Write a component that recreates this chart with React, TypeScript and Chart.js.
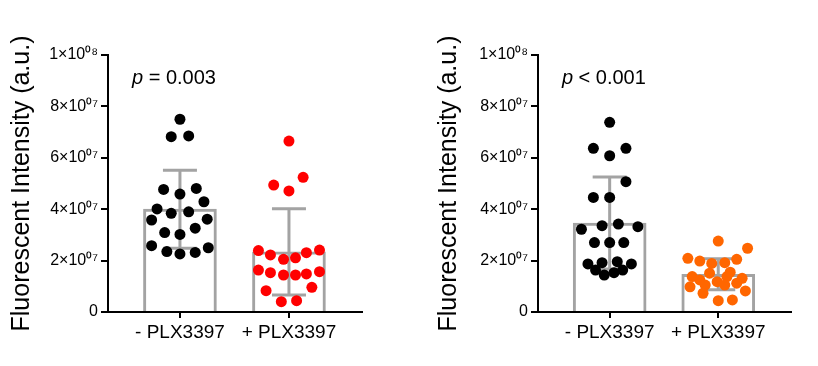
import React, { useEffect, useRef } from 'react';
import { Chart, registerables } from 'chart.js';

Chart.register(...registerables);

// ---------- data (values in units of 10^7 a.u.) ----------
const groupLabels = ['- PLX3397', '+ PLX3397'];
const yTickValues = [0, 2, 4, 6, 8, 10];
const yTickLabels = ['0', '2×10⁰⁷', '4×10⁰⁷', '6×10⁰⁷', '8×10⁰⁷', '1×10⁰⁸'];
const yTitle = 'Fluorescent Intensity (a.u.)';

// Panel A
const aMeans = [4.0, 2.34];
const aSD = [1.52, 1.68];
const aCtrlValues = [7.5, 6.82, 6.85, 4.77, 4.59, 4.81, 4.29, 4.01, 3.84, 3.9, 3.58, 3.61, 3.09, 3.02, 3.26, 2.58, 2.35, 2.26, 2.32, 2.5];
const aCtrlJitter = [0, -0.08, 0.08, -0.15, 0, 0.15, 0.22, -0.21, -0.08, 0.08, -0.26, 0.25, -0.14, 0, 0.14, -0.26, -0.12, 0, 0.14, 0.26];
const aTreatValues = [6.65, 4.94, 5.24, 4.71, 2.39, 2.22, 2.05, 2.11, 2.31, 2.41, 1.63, 1.53, 1.44, 1.44, 1.48, 1.57, 0.83, 0.96, 0.4, 0.44];
const aTreatJitter = [0, -0.14, 0.13, 0, -0.28, -0.17, -0.05, 0.06, 0.16, 0.28, -0.28, -0.17, -0.05, 0.06, 0.16, 0.28, -0.21, 0.21, -0.07, 0.07];
const aPText = ['p', ' = 0.003'];

// Panel B
const bMeans = [3.46, 1.47];
const bSD = [1.79, 0.6];
const bCtrlValues = [7.38, 6.37, 6.37, 6.08, 5.07, 4.46, 4.46, 3.22, 3.36, 3.42, 3.32, 2.7, 2.7, 2.7, 1.87, 1.92, 1.96, 1.87, 1.63, 1.44, 1.53, 1.63];
const bCtrlJitter = [0, -0.15, 0.15, 0, 0.15, -0.15, 0, -0.26, -0.07, 0.08, 0.26, -0.14, 0, 0.13, -0.2, -0.07, 0.07, 0.2, -0.13, -0.05, 0.04, 0.12];
const bTreatValues = [2.76, 2.48, 2.09, 1.98, 1.89, 1.92, 2.05, 1.51, 1.38, 1.25, 1.38, 1.31, 1.18, 0.98, 1.05, 1.05, 1.12, 0.73, 0.82, 0.44, 0.47, 1.55];
const bTreatJitter = [0, 0.27, -0.28, -0.17, -0.06, 0.06, 0.17, -0.08, -0.24, -0.17, 0.08, 0.22, -0.01, -0.26, -0.12, 0.06, 0.17, -0.14, 0.25, 0, 0.13, 0.11];
const bPText = ['p', ' < 0.001'];

const FONT = "'Liberation Sans', Arial, sans-serif";
const BAR_GRAY = '#a3a3a3';

type PanelProps = {
  means: number[];
  sds: number[];
  ctrlValues: number[];
  ctrlJitter: number[];
  treatValues: number[];
  treatJitter: number[];
  ctrlColor: string;
  treatColor: string;
  pText: string[];
  axisLeft: number;
  padRight: number;
  titlePad: number;
};

function Panel(props: PanelProps) {
  const ref = useRef<HTMLCanvasElement | null>(null);
  useEffect(() => {
    const {
      means, sds, ctrlValues, ctrlJitter, treatValues, treatJitter,
      ctrlColor, treatColor, pText, axisLeft, padRight, titlePad,
    } = props;

    const errorBars = {
      id: 'errorBars',
      afterDatasetDraw(chart: any, args: any) {
        if (args.index !== 2) return;
        const { ctx, scales } = chart;
        const xs = scales.x;
        const ys = scales.y;
        ctx.save();
        ctx.strokeStyle = BAR_GRAY;
        ctx.lineWidth = 3;
        means.forEach((m, i) => {
          const cx = xs.getPixelForValue(i);
          const top = ys.getPixelForValue(m + sds[i]);
          const bot = ys.getPixelForValue(m - sds[i]);
          const half = 17;
          ctx.beginPath();
          ctx.moveTo(cx, top);
          ctx.lineTo(cx, bot);
          ctx.moveTo(cx - half, top);
          ctx.lineTo(cx + half, top);
          ctx.moveTo(cx - half, bot);
          ctx.lineTo(cx + half, bot);
          ctx.stroke();
        });
        ctx.restore();
      },
    };

    const pLabel = {
      id: 'pLabel',
      afterDraw(chart: any) {
        const { ctx, scales } = chart;
        const x = scales.x.getPixelForValue(-0.44);
        const y = scales.y.getPixelForValue(9.1);
        ctx.save();
        ctx.fillStyle = '#000';
        ctx.textBaseline = 'middle';
        ctx.textAlign = 'left';
        ctx.font = `italic 20px ${FONT}`;
        ctx.fillText(pText[0], x, y);
        const w = ctx.measureText(pText[0]).width;
        ctx.font = `20px ${FONT}`;
        ctx.fillText(pText[1], x + w, y);
        ctx.restore();
      },
    };

    const chart = new Chart(ref.current as HTMLCanvasElement, {
      type: 'bar',
      data: {
        datasets: [
          {
            type: 'scatter',
            data: ctrlValues.map((v, i) => ({ x: 0 + ctrlJitter[i], y: v })),
            backgroundColor: ctrlColor,
            borderColor: ctrlColor,
            borderWidth: 0,
            pointRadius: 5.5,
            order: 0,
          } as any,
          {
            type: 'scatter',
            data: treatValues.map((v, i) => ({ x: 1 + treatJitter[i], y: v })),
            backgroundColor: treatColor,
            borderColor: treatColor,
            borderWidth: 0,
            pointRadius: 5.5,
            order: 0,
          } as any,
          {
            type: 'bar',
            data: means.map((m, i) => ({ x: i, y: m })),
            backgroundColor: '#ffffff',
            borderColor: BAR_GRAY,
            borderWidth: 3,
            borderSkipped: 'bottom',
            barThickness: 73,
            order: 1,
          } as any,
        ],
      },
      options: {
        animation: false,
        responsive: false,
        events: [],
        layout: { padding: { left: 0, top: 55, right: padRight, bottom: 0 } },
        plugins: { legend: { display: false }, tooltip: { enabled: false } },
        scales: {
          x: {
            type: 'linear',
            min: -0.66,
            max: 1.67,
            offset: false,
            afterBuildTicks: (s: any) => {
              s.ticks = groupLabels.map((_, i) => ({ value: i }));
            },
            afterFit: (s: any) => {
              s.height = 54;
            },
            ticks: {
              callback: (_v: any, i: number) => groupLabels[i],
              font: { family: FONT, size: 19 },
              color: '#000',
              padding: 3,
              maxRotation: 0,
              autoSkip: false,
            },
            grid: { drawOnChartArea: false, tickLength: 6, color: '#000', lineWidth: 2, offset: false },
            border: { display: true, color: '#000', width: 2 },
          },
          y: {
            type: 'linear',
            min: 0,
            max: 10,
            afterBuildTicks: (s: any) => {
              s.ticks = yTickValues.map((v) => ({ value: v }));
            },
            afterFit: (s: any) => {
              s.width = axisLeft;
            },
            ticks: {
              callback: (_v: any, i: number) => yTickLabels[i],
              font: { family: FONT, size: 16 },
              color: '#000',
              padding: 3,
            },
            grid: { drawOnChartArea: false, tickLength: 7, color: '#000', lineWidth: 2 },
            border: { display: true, color: '#000', width: 2 },
            title: {
              display: true,
              text: yTitle,
              font: { family: FONT, size: 25 },
              color: '#000',
              padding: { top: titlePad, bottom: 0 },
            },
          },
        },
      } as any,
      plugins: [errorBars, pLabel],
    });
    return () => chart.destroy();
  }, []);
  return <canvas ref={ref} width={409} height={366} style={{ display: 'block' }} />;
}

export default function App() {
  return (
    <div
      style={{
        position: 'fixed',
        left: 0,
        top: 0,
        width: 818,
        height: 366,
        display: 'flex',
        background: '#ffffff',
      }}
    >
      <Panel
        means={aMeans}
        sds={aSD}
        ctrlValues={aCtrlValues}
        ctrlJitter={aCtrlJitter}
        treatValues={aTreatValues}
        treatJitter={aTreatJitter}
        ctrlColor="#000000"
        treatColor="#ff0000"
        pText={aPText}
        axisLeft={108}
        padRight={47}
        titlePad={7}
      />
      <Panel
        means={bMeans}
        sds={bSD}
        ctrlValues={bCtrlValues}
        ctrlJitter={bCtrlJitter}
        treatValues={bTreatValues}
        treatJitter={bTreatJitter}
        ctrlColor="#000000"
        treatColor="#ff6600"
        pText={bPText}
        axisLeft={129}
        padRight={27}
        titlePad={25}
      />
    </div>
  );
}
